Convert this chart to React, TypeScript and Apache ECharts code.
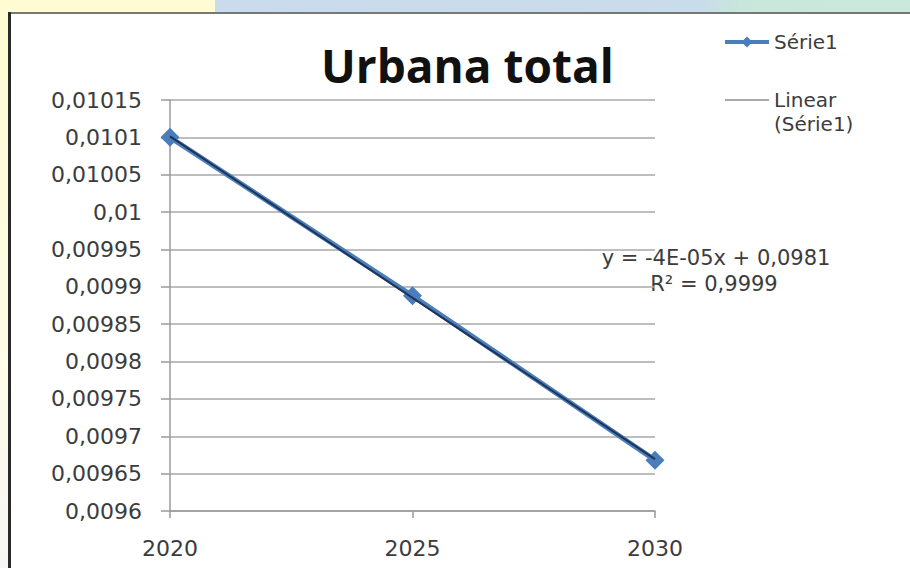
import React, { useEffect, useRef } from "react";
import * as echarts from "echarts";

// Urbana total: projected urban share by year
const years = [2020, 2025, 2030];
const urbanaTotal = [0.0101, 0.009888, 0.009668];

const seriesName = "Série1";
const trendName = "Linear (Série1)";
const trendEquation = "y = -4E-05x + 0,0981";
const trendR2 = "R² = 0,9999";

// least-squares line through the plotted points
function linearFit(xs: number[], ys: number[]) {
  const n = xs.length;
  const mx = xs.reduce((a, b) => a + b, 0) / n;
  const my = ys.reduce((a, b) => a + b, 0) / n;
  let sxy = 0;
  let sxx = 0;
  for (let i = 0; i < n; i++) {
    sxy += (xs[i] - mx) * (ys[i] - my);
    sxx += (xs[i] - mx) * (xs[i] - mx);
  }
  const slope = sxy / sxx;
  return { slope, intercept: my - slope * mx };
}

const fmtY = (v: number) => {
  let s = v.toFixed(5);
  s = s.replace(/0+$/, "").replace(/\.$/, "");
  return s.replace(".", ",");
};

// the trendline entry wraps after "Linear"; a blank first line keeps
// "Linear" level with its legend line
const fmtLegend = (name: string) =>
  name === trendName ? " \n" + name.replace(" ", "\n") : name;

export default function App() {
  const ref = useRef<HTMLDivElement>(null);

  useEffect(() => {
    if (!ref.current) return;
    const chart = echarts.init(ref.current, undefined, { renderer: "svg" });
    const fit = linearFit(years, urbanaTotal);
    const x0 = years[0];
    const x1 = years[years.length - 1];
    const trend = [
      [x0, fit.intercept + fit.slope * x0],
      [x1, fit.intercept + fit.slope * x1],
    ];
    const font = "DejaVu Sans";
    const txt = "#3c3c3c";

    chart.setOption({
      animation: false,
      backgroundColor: "#ffffff",
      graphic: [
        {
          type: "rect",
          z: -10,
          silent: true,
          shape: { x: 0, y: 0, width: 215, height: 13 },
          style: { fill: "#fffbd2" },
        },
        {
          type: "rect",
          z: -10,
          silent: true,
          shape: { x: 215, y: 0, width: 695, height: 13 },
          style: {
            fill: new echarts.graphic.LinearGradient(0, 0, 1, 0, [
              { offset: 0, color: "#c9dbec" },
              { offset: 0.7, color: "#c9dcea" },
              { offset: 0.76, color: "#c8e7da" },
              { offset: 1, color: "#cbe8dc" },
            ]),
          },
        },
        {
          type: "rect",
          z: -10,
          silent: true,
          shape: { x: 0, y: 13, width: 8, height: 555 },
          style: {
            fill: new echarts.graphic.LinearGradient(0, 0, 0, 1, [
              { offset: 0, color: "#fffbd2" },
              { offset: 0.6, color: "#fffce6" },
              { offset: 1, color: "#f6f6f6" },
            ]),
          },
        },
        {
          type: "line",
          z: -5,
          silent: true,
          shape: { x1: 8, y1: 13, x2: 910, y2: 13 },
          style: { stroke: "#777777", lineWidth: 2 },
        },
        {
          type: "line",
          z: -5,
          silent: true,
          shape: { x1: 9.5, y1: 12, x2: 9.5, y2: 568 },
          style: { stroke: "#2a2a2a", lineWidth: 3 },
        },
        {
          type: "text",
          x: 716,
          y: 258,
          style: {
            text: trendEquation,
            font: `21px "${font}"`,
            fill: txt,
            align: "center",
            verticalAlign: "middle",
          },
        },
        {
          type: "text",
          x: 714,
          y: 284,
          style: {
            text: trendR2,
            font: `21px "${font}"`,
            fill: txt,
            align: "center",
            verticalAlign: "middle",
          },
        },
      ],
      title: {
        text: "Urbana total",
        left: 316,
        top: 37,
        textStyle: {
          fontFamily: "Open Sans",
          fontWeight: "bold",
          fontSize: 46,
          color: "#111111",
        },
      },
      legend: {
        orient: "vertical",
        left: 718,
        top: 25,
        itemWidth: 44,
        itemHeight: 14,
        itemGap: 10,
        formatter: fmtLegend,
        textStyle: { fontFamily: font, fontSize: 20, color: txt, lineHeight: 24 },
        data: [
          { name: seriesName, lineStyle: { width: 4 } },
          {
            name: trendName,
            icon: "path://M0,0 L44,0 L44,1 L0,1 Z",
            itemStyle: { color: "#555555" },
          },
        ],
      },
      grid: { left: 170, right: 255, top: 100, bottom: 57 },
      xAxis: {
        type: "value",
        min: 2020,
        max: 2030,
        interval: 5,
        splitLine: { show: false },
        axisLine: { show: true, lineStyle: { color: "#9a9a9a", width: 1.5 } },
        axisTick: { show: true, length: 7, lineStyle: { color: "#9a9a9a", width: 1.5 } },
        axisLabel: {
          fontFamily: font,
          fontSize: 22,
          color: txt,
          margin: 26,
          formatter: (v: number) => String(v),
        },
      },
      yAxis: {
        type: "value",
        min: 0.0096,
        max: 0.01015,
        interval: 0.00005,
        splitLine: { show: true, lineStyle: { color: "#a8a8a8", width: 1.5 } },
        axisLine: { show: true, lineStyle: { color: "#9a9a9a", width: 1.5 } },
        axisTick: { show: true, length: 9, lineStyle: { color: "#9a9a9a", width: 1.5 } },
        axisLabel: {
          fontFamily: font,
          fontSize: 22,
          color: txt,
          margin: 28,
          formatter: fmtY,
        },
      },
      series: [
        {
          name: seriesName,
          type: "line",
          data: years.map((y, i) => [y, urbanaTotal[i]]),
          symbol: "diamond",
          symbolSize: 19,
          z: 3,
          lineStyle: { color: "#4a7ebb", width: 5 },
          itemStyle: { color: "#4a7ebb" },
        },
        {
          name: trendName,
          type: "line",
          data: trend,
          symbol: "none",
          z: 4,
          lineStyle: { color: "#1f3358", width: 2 },
          itemStyle: { color: "#1f3358" },
        },
      ],
    });
    return () => chart.dispose();
  }, []);

  return (
    <div
      ref={ref}
      style={{ position: "fixed", left: 0, top: 0, width: 910, height: 568 }}
    />
  );
}
